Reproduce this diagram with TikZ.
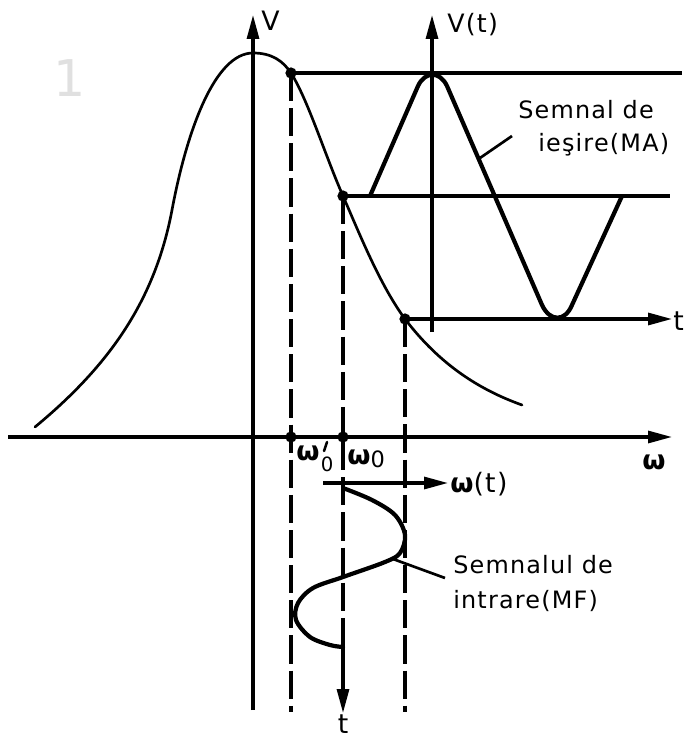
\documentclass[tikz,border=0pt]{standalone}
\usepackage{fontspec}
\setmainfont{DejaVu Sans}[LetterSpace=5]
\usetikzlibrary{arrows.meta}
\begin{document}
\begin{tikzpicture}[x=0.025cm,y=-0.025cm,
  axisline/.style={line width=2.2pt},
  arr/.style={-{Triangle[length=17pt,width=8.5pt]}},
  dashline/.style={line width=2.3pt, dash pattern=on 20pt off 5pt},
  bell/.style={line width=1.9pt, line cap=round},
  signal/.style={line width=3pt, line cap=round, line join=round},
  leader/.style={line width=1.9pt},
  dot/.style={circle, fill, inner sep=0pt, minimum size=8pt},
  lbl/.style={font=\fontsize{17}{24}\selectfont, inner sep=0pt},
  wlbl/.style={font=\fontsize{19}{24}\selectfont\bfseries, inner sep=0pt},
  tlbl/.style={font=\fontsize{19}{24}\selectfont, inner sep=0pt},
]
\useasboundingbox (0,0) rectangle (690,740);

% faint scan mark
\node[text=black!12, font=\fontsize{36}{36}\selectfont, inner sep=0pt] (mark) at (70,78) {1};

% key points
\coordinate (A) at (291,73);
\coordinate (B) at (343,196);
\coordinate (C) at (405,319);
\coordinate (A0) at (291,437);
\coordinate (B0) at (343,437);

% main axes
\coordinate (Vbot) at (253,710);
\coordinate (Vtop) at (253,15);
\draw[axisline,arr] (Vbot) -- (Vtop);
\node[lbl, font=\fontsize{19}{24}\selectfont, anchor=base west] (Vlab) at (261,31) {V};

\coordinate (Wl) at (8,437);
\coordinate (Wr) at (672,437);
\draw[axisline,arr] (Wl) -- (Wr);
\node[wlbl] (Wlab) at (654,462) {ω};

% bell curve (resonance characteristic)
\coordinate (Bstart) at (35,427);
\coordinate (Binfl) at (172,210);
\coordinate (Bpeak) at (253,53);
\coordinate (Bend) at (522,405);
\draw[bell] (Bstart) .. controls (110,365) and (155,300) .. (Binfl)
  .. controls (187,130) and (215,53) .. (Bpeak)
  .. controls (272,53) and (283,61) .. (A)
  .. controls (308,100) and (325,155) .. (B)
  .. controls (360,235) and (380,285) .. (C)
  .. controls (440,365) and (480,390) .. (Bend);

% dashed projections
\coordinate (Ab) at (291,712);
\coordinate (Cb) at (405,712);
\coordinate (Bm) at (343,647);
\coordinate (Bb) at (343,713);
\draw[dashline] (A) -- (Ab);
\draw[dashline] (C) -- (Cb);
\draw[dashline] (B) -- (Bm);
\draw[axisline,arr] (Bm) -- (Bb);
\node[tlbl] (tb) at (343,724) {t};

% horizontal levels
\coordinate (Ar) at (682,73);
\coordinate (Br) at (670,196);
\coordinate (Cr) at (672,319);
\draw[axisline] (A) -- (Ar);
\draw[axisline] (B) -- (Br);
\draw[axisline,arr] (C) -- (Cr);
\node[tlbl, anchor=west] (tr) at (673,321) {t};

% V(t) axis
\coordinate (VTbot) at (432,332);
\coordinate (VTtop) at (432,15);
\draw[axisline,arr] (VTbot) -- (VTtop);
\node[lbl, font=\fontsize{18}{24}\selectfont, anchor=base west] (VTlab) at (447,33) {V(t)};

% output signal (MA)
\draw[signal] (370,196) -- (418,86) .. controls (425,71) and (440,71) .. (447,86)
  -- (542,305) .. controls (550,322) and (565,322) .. (572,305) -- (622,196);
\coordinate (MAtip) at (480,158);
\coordinate (MAtext) at (512,136);
\draw[leader] (MAtext) -- (MAtip);
\node[lbl, anchor=base west] (MA1) at (518,119) {Semnal de};
\node[lbl, anchor=base west] (MA2) at (538,152) {ieşire(MA)};

% omega(t) axis
\coordinate (Wtl) at (323,483);
\coordinate (Wtr) at (448,483);
\draw[axisline,arr] (Wtl) -- (Wtr);
\node[wlbl, anchor=west] (Wtlab) at (450,484) {ω\mdseries(t)};

% input signal (MF)
\draw[signal] plot[smooth, tension=0.55] coordinates {
  (343,488) (372,500) (395,515) (405,535) (400,553) (385,562)
  (343,577) (313,588) (298,603) (296,620) (310,637) (330,645) (343,647)};
\coordinate (MFtip) at (393,559);
\coordinate (MFtext) at (445,578);
\draw[leader] (MFtext) -- (MFtip);
\node[lbl, anchor=base west] (MF1) at (453,573) {Semnalul de};
\node[lbl, anchor=base west] (MF2) at (453,608) {intrare(MF)};

% dots
\foreach \p in {A,B,C,A0,B0} \node[dot] (d\p) at (\p) {};

% omega labels
\node[wlbl, anchor=west] (w0p) at (296,459) {ω\kern0.05em\raisebox{-0.75ex}{\mdseries\fontsize{14}{14}\selectfont 0}};
\coordinate (primeT) at (327,442);
\coordinate (primeB) at (324,451);
\draw[line width=1.8pt, line cap=round] (primeT) -- (primeB);
\node[wlbl, anchor=west] (w0) at (347,459) {ω\raisebox{-0.2ex}{\mdseries\fontsize{16}{16}\selectfont 0}};
\end{tikzpicture}
\end{document}
